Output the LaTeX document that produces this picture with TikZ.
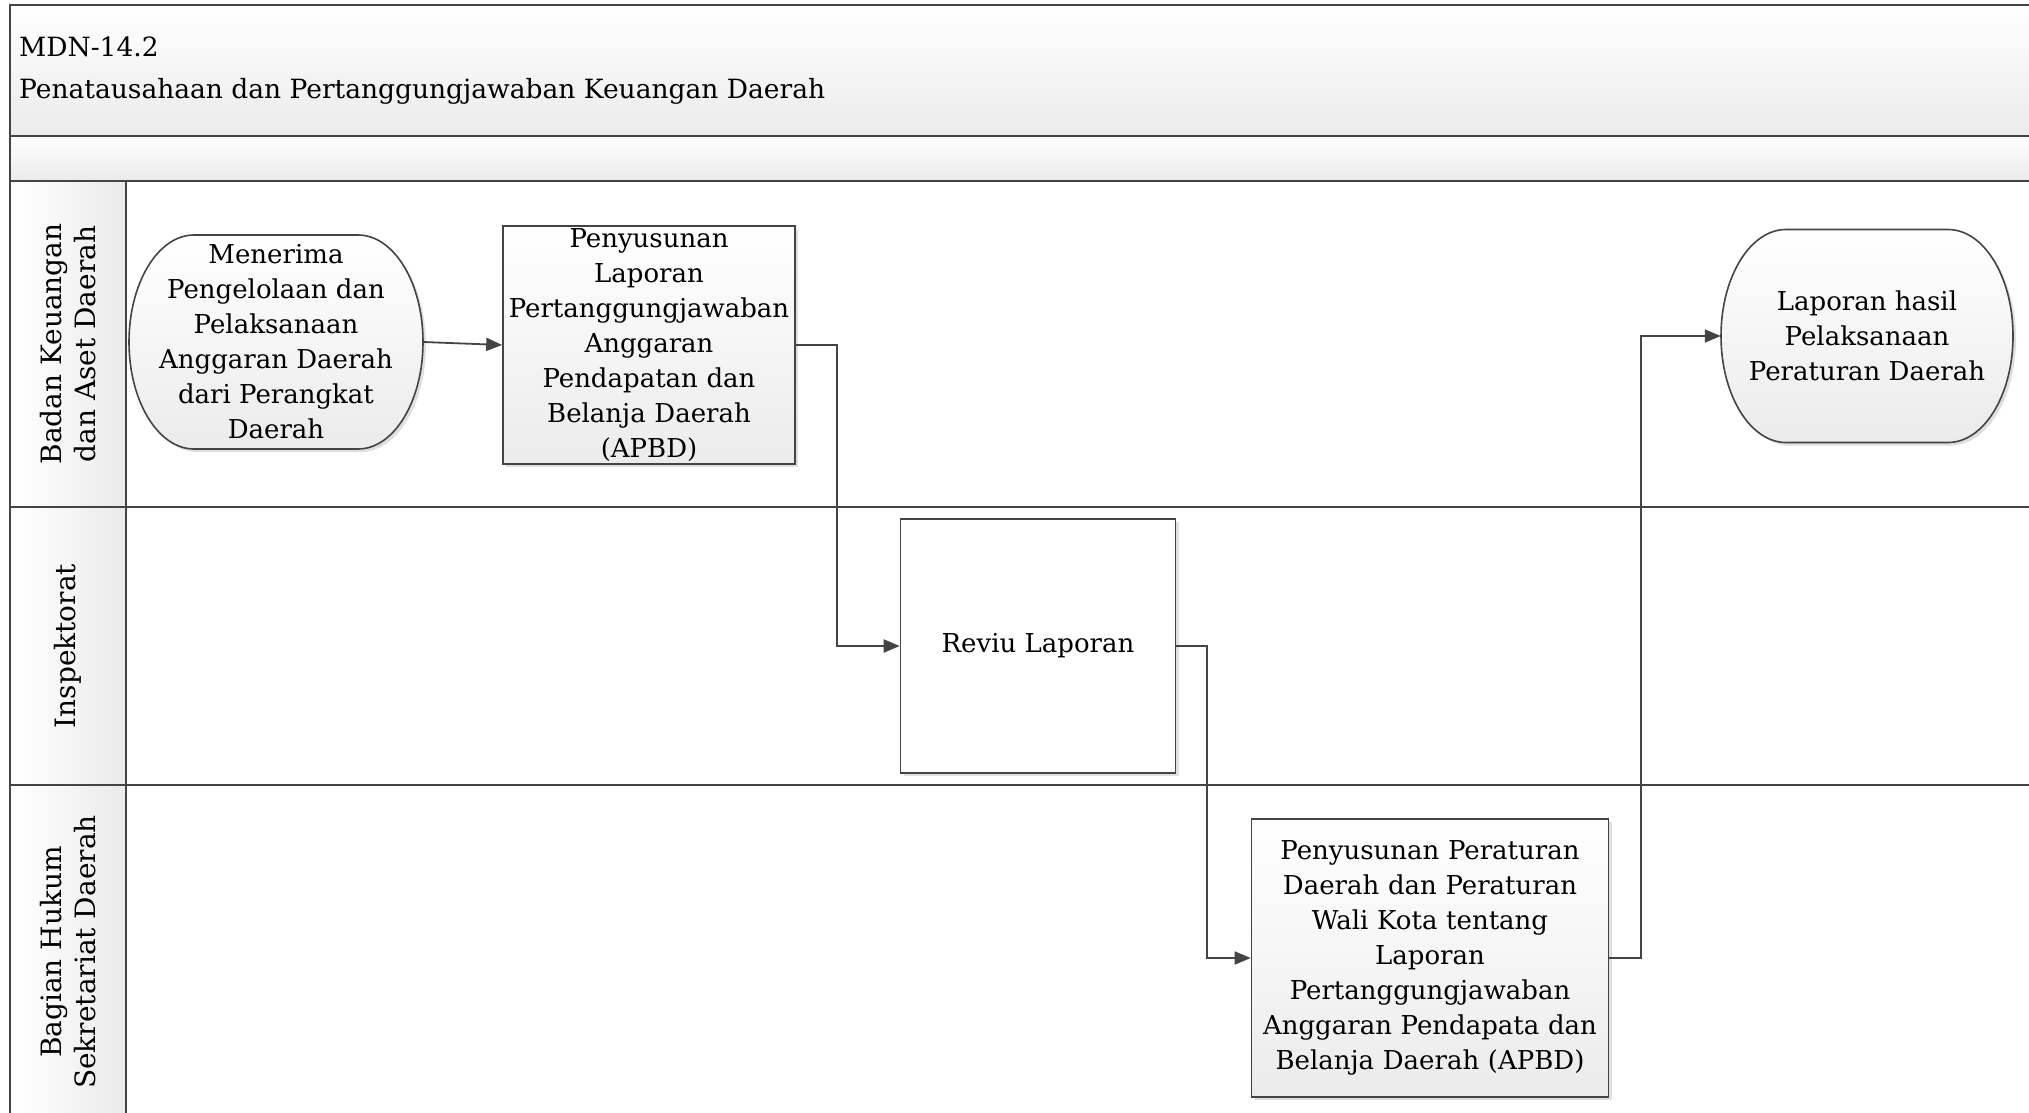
\documentclass[tikz,border=0pt]{standalone}
\usepackage{fontspec}
\setmainfont{DejaVu Serif}
\usetikzlibrary{arrows.meta,shadows}
\definecolor{linec}{HTML}{444444}
\definecolor{shadeg}{HTML}{EBEBEB}
\begin{document}
\begin{tikzpicture}[x=1pt,y=-1pt,
  frame/.style={draw=linec,line width=2pt},
  bandfill/.style={top color=white,bottom color=shadeg},
  lanefill/.style={left color=white,right color=shadeg},
  nodetext/.style={font=\fontsize{26}{35}\selectfont,align=center,inner sep=0pt},
  lanetext/.style={font=\fontsize{28}{34}\selectfont,align=center,rotate=90,inner sep=0pt},
  titletext/.style={font=\fontsize{26.5}{32}\selectfont,anchor=west,inner sep=0pt},
  shad/.style={drop shadow={shadow xshift=3pt,shadow yshift=-3pt,opacity=0.25,fill=gray}},
  procbox/.style={nodetext,draw=linec,line width=1.6pt,rectangle,shad,top color=white,bottom color=shadeg},
  plainbox/.style={nodetext,draw=linec,line width=1.6pt,rectangle,shad,fill=white},
  termshape/.style={draw=linec,line width=1.6pt,shad,top color=white,bottom color=shadeg},
  termtext/.style={nodetext,rectangle},
  conn/.style={draw=linec,line width=1.8pt,-{Triangle[length=16pt,width=13pt]}},
]
\useasboundingbox (0,0) rectangle (2029,1113);
\clip (0,0) rectangle (2029,1113);
% header bands
\path[bandfill,frame] (10,5) rectangle (2045,136);
\path[bandfill,frame] (10,136) rectangle (2045,181);
% lanes
\path[frame,fill=white] (10,181) rectangle (2045,507);
\path[frame,fill=white] (10,507) rectangle (2045,785);
\path[frame,fill=white] (10,785) rectangle (2045,1125);
\path[lanefill,frame] (10,181) rectangle (126,507);
\path[lanefill,frame] (10,507) rectangle (126,785);
\path[lanefill,frame] (10,785) rectangle (126,1125);
% titles
\node[titletext] (t1) at (19,47) {MDN-14.2};
\node[titletext] (t2) at (19,91) {Penatausahaan dan Pertanggungjawaban Keuangan Daerah};
% lane labels
\node[lanetext] (l1) at (68,344) {Badan Keuangan\\dan Aset Daerah};
\node[lanetext] (l2) at (68,646) {Inspektorat};
\node[lanetext] (l3) at (68,952) {Bagian Hukum\\Sekretariat Daerah};
% terminator outlines
\path[termshape] (194,235) -- (358,235)
  arc[start angle=90,end angle=-90,x radius=65pt,y radius=107pt] -- (194,449)
  arc[start angle=270,end angle=90,x radius=65pt,y radius=107pt] -- cycle;
\path[termshape] (1786,229.5) -- (1948,229.5)
  arc[start angle=90,end angle=-90,x radius=65pt,y radius=106.5pt] -- (1786,442.5)
  arc[start angle=270,end angle=90,x radius=65pt,y radius=106.5pt] -- cycle;
% nodes
\node[termtext,minimum width=294pt,minimum height=214pt] (start) at (276,342)
  {Menerima\\Pengelolaan dan\\Pelaksanaan\\Anggaran Daerah\\dari Perangkat\\Daerah};
\node[procbox,minimum width=292pt,minimum height=238pt,text width=288pt] (box1) at (649,345)
  {Penyusunan\\Laporan\\Pertanggungjawaban\\Anggaran\\Pendapatan dan\\Belanja Daerah\\(APBD)};
\node[plainbox,minimum width=275pt,minimum height=254pt] (reviu) at (1038,646) {Reviu Laporan};
\node[procbox,minimum width=357pt,minimum height=278pt,text width=353pt] (box3) at (1430,958)
  {Penyusunan Peraturan\\Daerah dan Peraturan\\Wali Kota tentang\\Laporan\\Pertanggungjawaban\\Anggaran Pendapata dan\\Belanja Daerah (APBD)};
\node[termtext,minimum width=292pt,minimum height=213pt] (end) at (1867,336)
  {Laporan hasil\\Pelaksanaan\\Peraturan Daerah};
% connectors
\draw[conn] (start.east) -- (box1.west);
\draw[conn] (box1.east) -- ++(41,0) |- (reviu.west);
\draw[conn] (reviu.east) -- ++(31,0) |- (box3.west);
\draw[conn] (box3.east) -- ++(32,0) |- (end.west);
\end{tikzpicture}
\end{document}
